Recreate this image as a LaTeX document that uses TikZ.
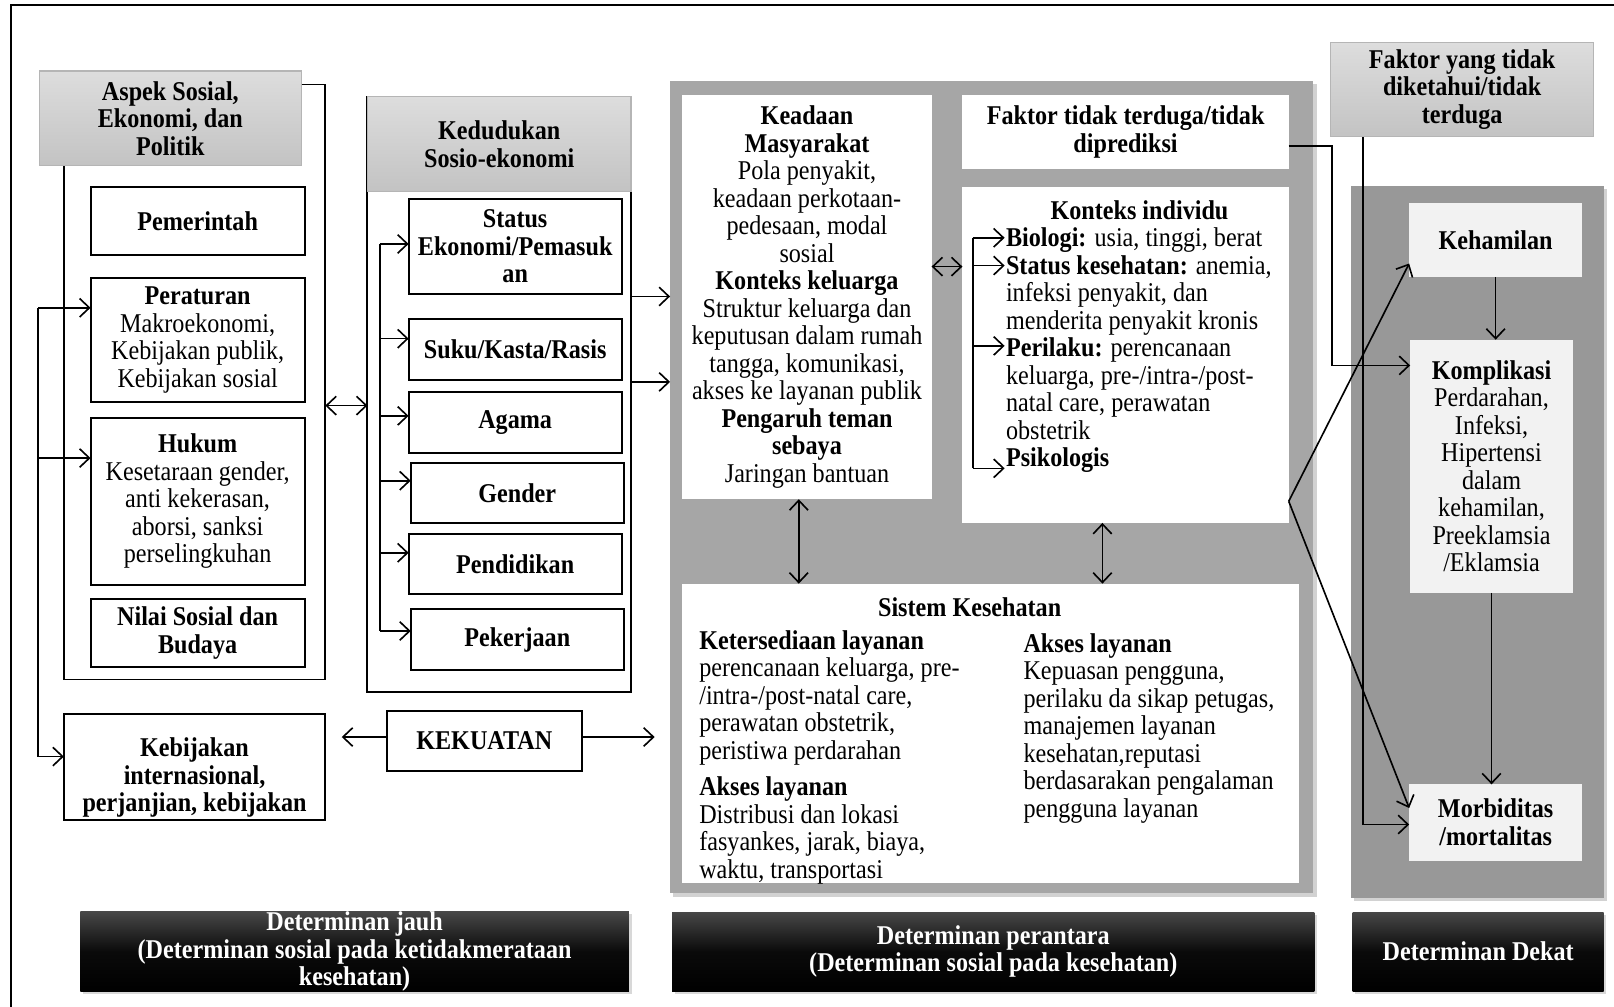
\documentclass[tikz,border=0pt]{standalone}
\usepackage{fontspec}
\setmainfont{Liberation Serif}[FakeStretch=0.89]
\usetikzlibrary{arrows.meta,shadows,calc}
\definecolor{hdrtop}{HTML}{DDDDDD}
\definecolor{hdrbot}{HTML}{C3C3C3}
\definecolor{hdrline}{HTML}{B5B5B5}
\definecolor{midgray}{HTML}{A6A6A6}
\definecolor{rgray}{HTML}{989898}
\definecolor{lightbox}{HTML}{F2F2F2}
\newcommand\dsz{\fontsize{15}{15.2}\selectfont}
% box from (x1,y1) to (x2,y2): name, x1, y1, x2, y2, style, text
\newcommand\bx[7]{\node[inner sep=0pt, outer sep=0pt, align=center, font=\dsz,
  minimum width={(#4-#2)*0.02cm}, minimum height={(#5-#3)*0.02cm}, #6]
  (#1) at ({(#2+#4)/2},{(#3+#5)/2}) {#7};}
\tikzset{
  hdr/.style={top color=hdrtop, bottom color=hdrbot, draw=hdrline, line width=0.6pt, font=\dsz\bfseries},
  wbox/.style={draw=black, fill=white, line width=1.1pt},
  bwbox/.style={wbox, font=\dsz\bfseries},
  pbox/.style={fill=white},
  lbox/.style={fill=lightbox},
  panel/.style={fill=midgray, drop shadow={opacity=0.35, shadow xshift=0.06cm, shadow yshift=-0.06cm}},
  rpan/.style={fill=rgray, drop shadow={opacity=0.35, shadow xshift=0.06cm, shadow yshift=-0.06cm}},
  blk/.style={top color=black!72, bottom color=black, middle color=black!96, text=white, font=\dsz\bfseries,
    drop shadow={opacity=0.3, shadow xshift=0.05cm, shadow yshift=-0.05cm}},
  lnk/.style={line width=0.9pt},
  conn/.style={line width=0.9pt, -{Straight Barb[length=1.9mm,width=3.6mm]}},
  dconn/.style={line width=0.9pt, {Straight Barb[length=1.9mm,width=3.6mm]}-{Straight Barb[length=1.9mm,width=3.6mm]}},
  txt/.style={inner sep=0pt, font=\dsz, align=left}
}
\begin{document}
\begin{tikzpicture}[x=0.02cm,y=-0.02cm]
\useasboundingbox (0,0) rectangle (1568,978);
\fill[white] (0,0) rectangle (1568,978);
% outer frame
\draw[line width=1.2pt] (11,978) -- (11,5) -- (1568,5);

% ---------- left column ----------
\bx{kiri}{62}{82}{316}{660}{}{}
\bx{aspek}{38}{69}{293}{161}{hdr}{Aspek Sosial,\\Ekonomi, dan\\Politik}
\bx{pem}{88}{182}{296}{248}{bwbox}{Pemerintah}
\bx{perat}{88}{270}{296}{391}{wbox}{\textbf{Peraturan}\\Makroekonomi,\\Kebijakan publik,\\Kebijakan sosial}
\bx{hukum}{88}{406}{296}{568}{wbox}{\textbf{Hukum}\\Kesetaraan gender,\\anti kekerasan,\\aborsi, sanksi\\perselingkuhan}
\bx{nilai}{88}{582}{296}{648}{bwbox}{Nilai Sosial dan\\Budaya}
\bx{kebint}{62}{694}{316}{797}{bwbox}{\rule{0pt}{22pt}Kebijakan\\internasional,\\perjanjian, kebijakan}

% ---------- socio-economic column ----------
\bx{ked}{357}{94}{613}{672}{wbox}{}
\bx{kedh}{357}{94}{613}{186}{hdr}{Kedudukan\\Sosio-ekonomi}
\bx{stat}{397}{193}{604}{286}{bwbox}{Status\\Ekonomi/Pemasuk\\an}
\bx{suku}{397}{310}{604}{369}{bwbox}{Suku/Kasta/Rasis}
\bx{agama}{397}{381}{604}{440}{bwbox}{Agama}
\bx{gender}{399}{450}{606}{508}{bwbox}{Gender}
\bx{pend}{397}{519}{604}{577}{bwbox}{Pendidikan}
\bx{pek}{399}{592}{606}{651}{bwbox}{Pekerjaan}
\bx{kek}{376}{691}{565}{749}{bwbox}{KEKUATAN}

% ---------- middle panel ----------
\bx{mid}{651}{79}{1276}{868}{panel}{}
\bx{keadaan}{663}{92}{905}{485}{pbox}{\textbf{Keadaan}\\\textbf{Masyarakat}\\Pola penyakit,\\keadaan perkotaan-\\pedesaan, modal\\sosial\\\textbf{Konteks keluarga}\\Struktur keluarga dan\\keputusan dalam rumah\\tangga, komunikasi,\\akses ke layanan publik\\\textbf{Pengaruh teman}\\\textbf{sebaya}\\Jaringan bantuan}
\bx{faktorT}{935}{92}{1252}{164}{pbox, font=\dsz\bfseries}{Faktor tidak terduga/tidak\\diprediksi}
\bx{konteks}{935}{182}{1252}{508}{pbox}{}
\node[txt, font=\dsz\bfseries] (kontit) at (1107,204) {Konteks individu};
\node[txt, anchor=north west] (kontlist) at (977,221) {\textbf{Biologi:} usia, tinggi, berat\\\textbf{Status kesehatan:} anemia,\\infeksi penyakit, dan\\menderita penyakit kronis\\\textbf{Perilaku:} perencanaan\\keluarga, pre-/intra-/post-\\natal care, perawatan\\obstetrik\\\textbf{Psikologis}};
\bx{sistem}{663}{567}{1262}{858}{pbox}{}
\node[txt, font=\dsz\bfseries] (sistit) at (942,590) {Sistem Kesehatan};
\node[txt, anchor=north west] (siskiri) at (679,612) {\textbf{Ketersediaan layanan}\\perencanaan keluarga, pre-\\/intra-/post-natal care,\\perawatan obstetrik,\\peristiwa perdarahan\\[5pt]\textbf{Akses layanan}\\Distribusi dan lokasi\\fasyankes, jarak, biaya,\\waktu, transportasi};
\node[txt, anchor=north west] (siskanan) at (994,615) {\textbf{Akses layanan}\\Kepuasan pengguna,\\perilaku da sikap petugas,\\manajemen layanan\\kesehatan,reputasi\\berdasarakan pengalaman\\pengguna layanan};

% ---------- right side ----------
\bx{faktorY}{1293}{41}{1548}{133}{hdr}{Faktor yang tidak\\diketahui/tidak\\terduga}
\bx{rpanel}{1312}{181}{1558}{872}{rpan}{}
\bx{hamil}{1369}{197}{1537}{269}{lbox, font=\dsz\bfseries}{Kehamilan}
\bx{kompl}{1370}{330}{1528}{576}{lbox}{\textbf{Komplikasi}\\Perdarahan,\\Infeksi,\\Hipertensi\\dalam\\kehamilan,\\Preeklamsia\\/Eklamsia}
\bx{morb}{1369}{762}{1537}{836}{lbox, font=\dsz\bfseries}{Morbiditas\\/mortalitas}

% ---------- bottom labels ----------
\bx{lab1}{78}{886}{611}{963}{blk}{Determinan jauh\\(Determinan sosial pada ketidakmerataan\\kesehatan)}
\bx{lab2}{653}{886}{1277}{963}{blk}{Determinan perantara\\(Determinan sosial pada kesehatan)}
\bx{lab3}{1314}{886}{1558}{963}{blk}{Determinan Dekat}

% ---------- connectors: left ----------
\draw[lnk] (aspek.east |- kiri.north) -- (kiri.north east) -- (kiri.south east) -- (kiri.south west) -- (kiri.west |- aspek.south);
\coordinate (lb1) at (37,299);
\coordinate (lb2) at (37,445);
\coordinate (lb3) at (37,735);
\draw[lnk] (lb1) -- (lb3);
\draw[conn] (lb1) -- (perat.west |- lb1);
\draw[conn] (lb2) -- (hukum.west |- lb2);
\draw[conn] (lb3) -- (kebint.west |- lb3);
\coordinate (y394) at (0,394);
\draw[dconn] (kiri.east |- y394) -- (ked.west |- y394);

\coordinate (kb1) at (369,237);
\coordinate (kb2) at (369,329);
\coordinate (kb3) at (369,404);
\coordinate (kb4) at (369,467);
\coordinate (kb5) at (369,537);
\coordinate (kb6) at (369,613);
\draw[lnk] (kb1) -- (kb6);
\draw[conn] (kb1) -- (stat.west |- kb1);
\draw[conn] (kb2) -- (suku.west |- kb2);
\draw[conn] (kb3) -- (agama.west |- kb3);
\draw[conn] (kb4) -- (gender.west |- kb4);
\draw[conn] (kb5) -- (pend.west |- kb5);
\draw[conn] (kb6) -- (pek.west |- kb6);

\coordinate (m1) at (0,288);
\coordinate (m2) at (0,371);
\draw[conn] (ked.east |- m1) -- (mid.west |- m1);
\draw[conn] (ked.east |- m2) -- (mid.west |- m2);

\coordinate (kl) at (332,716);
\coordinate (kr) at (636,716);
\draw[conn] (kek.west |- kl) -- (kl);
\draw[conn] (kek.east |- kr) -- (kr);

% ---------- connectors: middle ----------
\coordinate (h259) at (0,259);
\draw[dconn] (keadaan.east |- h259) -- (konteks.west |- h259);
\coordinate (v776) at (776,0);
\coordinate (v1071) at (1071,0);
\draw[dconn] (keadaan.south -| v776) -- (sistem.north -| v776);
\draw[dconn] (konteks.south -| v1071) -- (sistem.north -| v1071);

\coordinate (c1) at (945,231);
\coordinate (c2) at (945,258);
\coordinate (c3) at (945,336);
\coordinate (c4) at (945,455);
\coordinate (ct) at (976,0);
\draw[lnk] (c1) -- (c4);
\draw[conn] (c1) -- (c1 -| ct);
\draw[conn] (c2) -- (c2 -| ct);
\draw[conn] (c3) -- (c3 -| ct);
\draw[conn] (c4) -- (c4 -| ct);

% ---------- connectors: right ----------
\coordinate (f142) at (0,142);
\coordinate (k1) at (1294,355);
\draw[conn] (faktorT.east |- f142) -| (k1) -- (kompl.west |- k1);
\coordinate (fy) at (1324,801);
\draw[conn] (faktorY.south -| fy) -- (fy) -- (morb.west |- fy);
\coordinate (ko) at (0,487);
\coordinate (h256) at (0,256);
\coordinate (h785) at (0,785);
\draw[conn] (konteks.east |- ko) -- (hamil.west |- h256);
\draw[conn] (konteks.east |- ko) -- (morb.west |- h785);
\draw[conn] (hamil.south) -- (hamil.south |- kompl.north);
\draw[conn] (kompl.south) -- (kompl.south |- morb.north);
\end{tikzpicture}
\end{document}
